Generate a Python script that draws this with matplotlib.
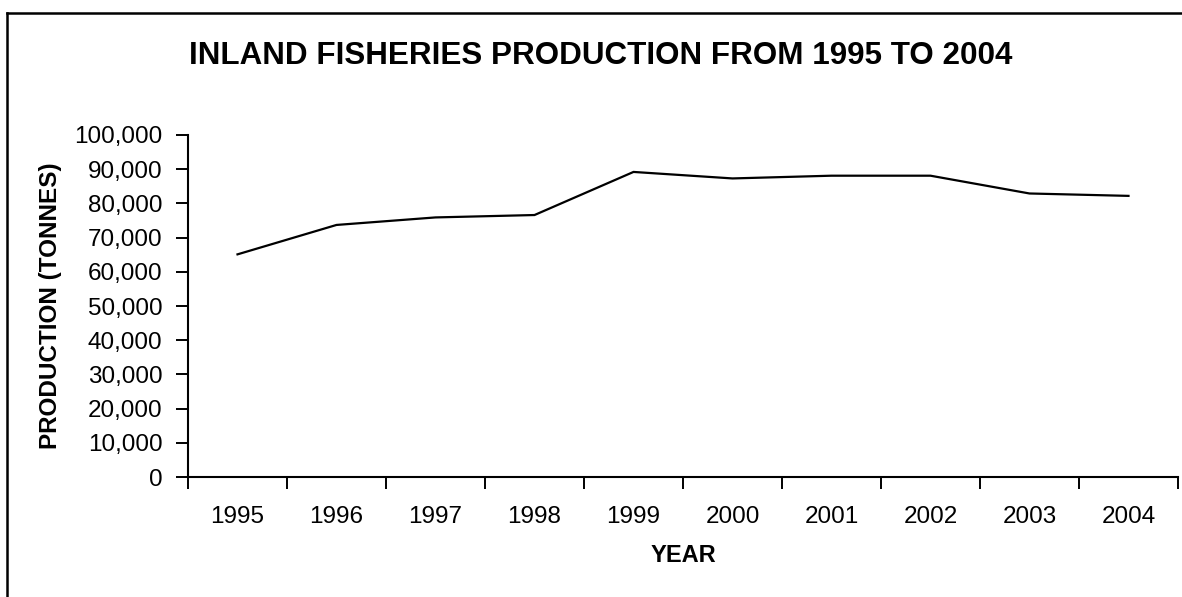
import matplotlib
matplotlib.use("Agg")
import matplotlib.pyplot as plt
from matplotlib.lines import Line2D
from matplotlib.ticker import StrMethodFormatter, FixedLocator

years = ["1995", "1996", "1997", "1998", "1999",
         "2000", "2001", "2002", "2003", "2004"]
production = [65100, 73700, 75900, 76600, 89200,
              87300, 88100, 88100, 82900, 82200]

W, H = 1182, 597
plt.rcParams["font.family"] = ["Liberation Sans", "DejaVu Sans"]

fig = plt.figure(figsize=(W / 100, H / 100), dpi=100)
fig.patch.set_facecolor("white")

# axes box in pixel terms: left 188, right 1178, top 135, bottom 477
ax = fig.add_axes([188 / W, 1 - 477 / H, (1178 - 188) / W, (477 - 135) / H])

x = list(range(len(years)))
ax.plot(x, production, color="black", lw=1.6, solid_joinstyle="miter")

ax.set_xlim(-0.5, len(years) - 0.5)
ax.set_ylim(0, 100000)
ax.set_yticks(range(0, 100001, 10000))
ax.yaxis.set_major_formatter(StrMethodFormatter("{x:,.0f}"))

# labels centred on categories, tick marks between them
ax.set_xticks(x)
ax.set_xticklabels(years)
ax.xaxis.set_minor_locator(FixedLocator([i - 0.5 for i in range(len(years) + 1)]))
ax.tick_params(axis="x", which="major", length=0, pad=21, labelsize=17.5)
ax.tick_params(axis="x", which="minor", length=8.5, width=1.4, direction="out")
ax.tick_params(axis="y", length=8.5, width=1.4, direction="out", pad=10, labelsize=17.5)

for s in ["top", "right"]:
    ax.spines[s].set_visible(False)
for s in ["left", "bottom"]:
    ax.spines[s].set_linewidth(1.5)

fig.text(601 / W, 1 - 56 / H, "INLAND FISHERIES PRODUCTION FROM 1995 TO 2004",
         ha="center", va="center", fontsize=22.6, fontweight="bold")
fig.text(51 / W, 1 - 306 / H, "PRODUCTION (TONNES)", rotation=90,
         ha="center", va="center", fontsize=17.5, fontweight="bold")
fig.text(683 / W, 1 - 556 / H, "YEAR",
         ha="center", va="center", fontsize=17, fontweight="bold")

# chart-area border (only left and top edges are inside the picture)
fig.add_artist(Line2D([7 / W, 7 / W], [0, 1 - 13 / H], color="black", lw=1.8,
                      transform=fig.transFigure))
fig.add_artist(Line2D([7 / W, 1], [1 - 13 / H, 1 - 13 / H], color="black", lw=1.8,
                      transform=fig.transFigure))

fig.savefig("out.png", dpi=100)
